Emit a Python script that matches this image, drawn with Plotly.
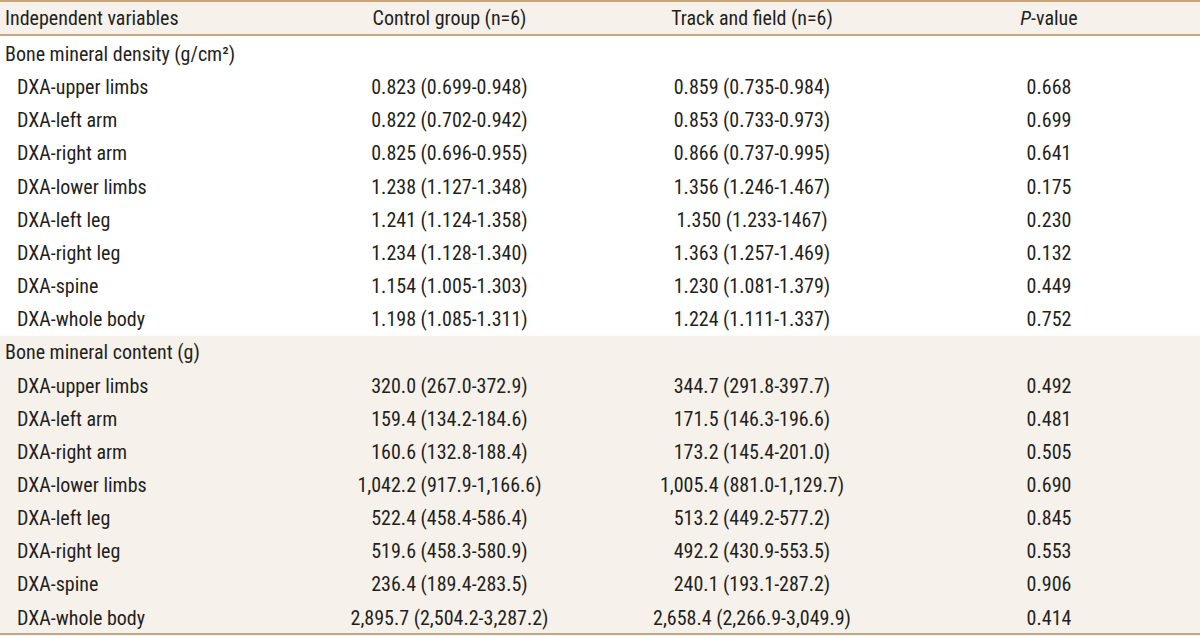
import plotly.graph_objects as go

variables = ["Bone mineral density (g/cm²)",
             "DXA-upper limbs", "DXA-left arm", "DXA-right arm", "DXA-lower limbs",
             "DXA-left leg", "DXA-right leg", "DXA-spine", "DXA-whole body",
             "Bone mineral content (g)",
             "DXA-upper limbs", "DXA-left arm", "DXA-right arm", "DXA-lower limbs",
             "DXA-left leg", "DXA-right leg", "DXA-spine", "DXA-whole body"]
is_section = [True] + [False] * 8 + [True] + [False] * 8

control = ["", "0.823 (0.699-0.948)", "0.822 (0.702-0.942)", "0.825 (0.696-0.955)",
           "1.238 (1.127-1.348)", "1.241 (1.124-1.358)", "1.234 (1.128-1.340)",
           "1.154 (1.005-1.303)", "1.198 (1.085-1.311)",
           "", "320.0 (267.0-372.9)", "159.4 (134.2-184.6)", "160.6 (132.8-188.4)",
           "1,042.2 (917.9-1,166.6)", "522.4 (458.4-586.4)", "519.6 (458.3-580.9)",
           "236.4 (189.4-283.5)", "2,895.7 (2,504.2-3,287.2)"]
track = ["", "0.859 (0.735-0.984)", "0.853 (0.733-0.973)", "0.866 (0.737-0.995)",
         "1.356 (1.246-1.467)", "1.350 (1.233-1467)", "1.363 (1.257-1.469)",
         "1.230 (1.081-1.379)", "1.224 (1.111-1.337)",
         "", "344.7 (291.8-397.7)", "171.5 (146.3-196.6)", "173.2 (145.4-201.0)",
         "1,005.4 (881.0-1,129.7)", "513.2 (449.2-577.2)", "492.2 (430.9-553.5)",
         "240.1 (193.1-287.2)", "2,658.4 (2,266.9-3,049.9)"]
pvalues = ["", "0.668", "0.699", "0.641", "0.175", "0.230", "0.132", "0.449", "0.752",
           "", "0.492", "0.481", "0.505", "0.690", "0.845", "0.553", "0.906", "0.414"]
headers = ["Independent variables", "Control group (n=6)", "Track and field (n=6)", "<i>P</i>-value"]

# ---- styling / layout constants ----
BEIGE = "#f6f1eb"
WHITE = "#ffffff"
TAN = "#c9a57c"
TXT = "#231f20"
FONT = "Roboto Condensed, Liberation Sans Narrow, sans-serif"
FS = 20
W, H = 1200, 636
ROW_PX = 33.15          # pixel height of one body row
FIRST_PX = 54.0         # pixel centre of first body row
HEADER_PX = 18.0        # pixel centre of header text
HEADER_LINE_PX = 35.0   # rule under the header
TOP_LINE_PX = 1.0
BOTTOM_LINE_PX = 634.0
TEXT_NUDGE_PX = 2.0     # plotly centres on the line box; nudge down to centre caps
COL_X = [5, 449.5, 752, 1049]   # label left edge, then column centres
INDENT = 12

n = len(variables)
rows = list(range(1, n + 1))


def px_to_row(p):
    return 1 + (p - FIRST_PX) / ROW_PX


y_top = px_to_row(0)
y_bot = px_to_row(H)
nudge = TEXT_NUDGE_PX / ROW_PX
text_rows = [r + nudge for r in rows]
header_y = px_to_row(HEADER_PX) + nudge

label_x = [COL_X[0] if s else COL_X[0] + INDENT for s in is_section]

fig = go.Figure()
common = dict(mode="text", hoverinfo="skip", showlegend=False, cliponaxis=False,
              textfont=dict(family=FONT, size=FS, color=TXT))
fig.add_trace(go.Scatter(x=label_x, y=text_rows, text=variables, textposition="middle right", **common))
fig.add_trace(go.Scatter(x=[COL_X[1]] * n, y=text_rows, text=control, textposition="middle center", **common))
fig.add_trace(go.Scatter(x=[COL_X[2]] * n, y=text_rows, text=track, textposition="middle center", **common))
fig.add_trace(go.Scatter(x=[COL_X[3]] * n, y=text_rows, text=pvalues, textposition="middle center", **common))
fig.add_trace(go.Scatter(x=COL_X, y=[header_y] * 4, text=headers,
                         textposition=["middle right", "middle center", "middle center", "middle center"],
                         **common))

# backgrounds: header band and second section band
sec2_start = is_section.index(True, 1) + 1
fig.add_shape(type="rect", xref="paper", yref="y", x0=0, x1=1, y0=y_top, y1=px_to_row(HEADER_LINE_PX),
              fillcolor=BEIGE, line_width=0, layer="below")
fig.add_shape(type="rect", xref="paper", yref="y", x0=0, x1=1, y0=sec2_start - 0.5,
              y1=px_to_row(BOTTOM_LINE_PX), fillcolor=BEIGE, line_width=0, layer="below")

# rules
for p in [TOP_LINE_PX, HEADER_LINE_PX, BOTTOM_LINE_PX]:
    yv = px_to_row(p)
    fig.add_shape(type="line", xref="paper", yref="y", x0=0, x1=1, y0=yv, y1=yv,
                  line=dict(color=TAN, width=2), layer="above")

fig.update_xaxes(range=[0, W], visible=False, fixedrange=True)
fig.update_yaxes(range=[y_bot, y_top], visible=False, fixedrange=True)
fig.update_layout(width=W, height=H, margin=dict(l=0, r=0, t=0, b=0),
                  paper_bgcolor=WHITE, plot_bgcolor=WHITE)
fig.write_html("out.html", config={"displayModeBar": False},
               post_script="document.body.style.margin='0';")
